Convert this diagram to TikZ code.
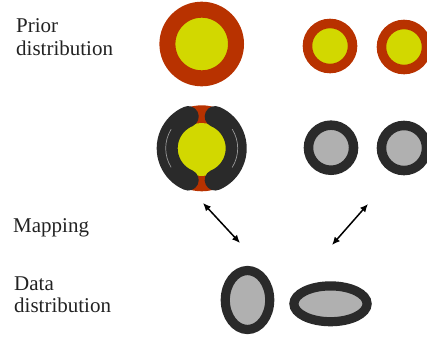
\documentclass[tikz,border=0pt]{standalone}
\usepackage{fontspec}
\setmainfont{Liberation Serif}
\usetikzlibrary{shapes.geometric,arrows.meta}
\definecolor{rimred}{HTML}{B83200}
\definecolor{coreyel}{HTML}{D2D800}
\definecolor{rimdark}{HTML}{2A2A2A}
\definecolor{coregray}{HTML}{B0B0B0}
\definecolor{txt}{HTML}{222222}
\tikzset{
  bigprior/.style={circle, inner sep=0pt, minimum size=68.6pt, fill=coreyel, draw=rimred, line width=16pt},
  smallprior/.style={circle, inner sep=0pt, minimum size=45.1pt, fill=coreyel, draw=rimred, line width=9.5pt},
  smallmap/.style={circle, inner sep=0pt, minimum size=45.1pt, fill=coregray, draw=rimdark, line width=9.5pt},
  dataell/.style={ellipse, inner sep=0pt, fill=coregray, draw=rimdark, line width=9.2pt},
  crescent/.style={draw=rimdark, line width=21pt, line cap=round},
  shine/.style={draw=gray!80, line width=0.7pt},
  label/.style={anchor=base west, align=left, inner sep=0pt, text=txt, font=\fontsize{21}{22}\selectfont},
  maparrow/.style={{Latex[length=8pt,width=7pt]}-{Latex[length=8pt,width=7pt]}, line width=1.5pt, draw=black}
}
\begin{document}
\begin{tikzpicture}[x=1pt,y=-1pt]
\useasboundingbox (0,0) rectangle (427,337);
\begin{scope}
\clip (0,0) rectangle (427,337);
% row 1: priors
\node[bigprior] (p1) at (201.7,44) {};
\node[smallprior] (p2) at (330,46) {};
\node[smallprior] (p3) at (404,47) {};
% row 2: mapped
\node[circle, inner sep=0pt, minimum size=86pt, fill=rimred] (m1) at (201.7,148.3) {};
\node[circle, inner sep=0pt, minimum size=53pt, fill=coreyel] (m1c) at (201.7,149.5) {};
\draw[crescent] ([shift={(113:34.5)}]m1.center) arc[start angle=113, end angle=247, radius=34.5];
\draw[crescent] ([shift={(-67:34.5)}]m1.center) arc[start angle=-67, end angle=67, radius=34.5];
\draw[shine] ([shift={(148:36)}]m1.center) arc[start angle=148, end angle=212, radius=36];
\draw[shine] ([shift={(-32:36)}]m1.center) arc[start angle=-32, end angle=32, radius=36];
\node[smallmap] (m2) at (331,147.7) {};
\node[smallmap] (m3) at (404,148) {};
% row 3: data
\node[dataell, minimum width=44.4pt, minimum height=59pt] (d1) at (247.5,300) {};
\node[dataell, minimum width=73.2pt, minimum height=35.8pt] (d2) at (330.5,303.8) {};
\end{scope}
% mapping arrows
\coordinate (a1s) at (203,203);
\coordinate (a1e) at (240,243);
\coordinate (a2s) at (368,204);
\coordinate (a2e) at (332,245);
\draw[maparrow] (a1s) -- (a1e);
\draw[maparrow] (a2s) -- (a2e);
% labels
\node[label] (lp) at (16,55) {Prior\\distribution};
\node[label] (lm) at (13,232) {Mapping};
\node[label] (ld) at (14,312) {Data\\distribution};
\end{tikzpicture}
\end{document}
